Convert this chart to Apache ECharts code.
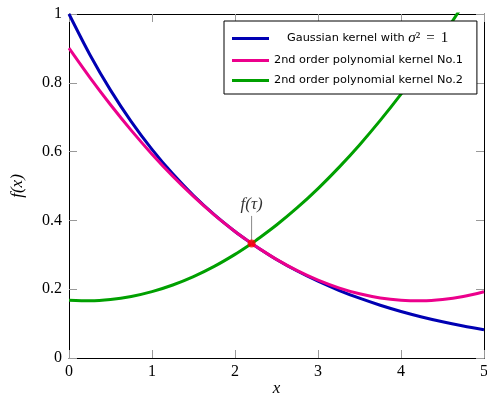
<!DOCTYPE html>
<html>
<head>
<meta charset="utf-8">
<script src="https://cdn.jsdelivr.net/npm/echarts@6/dist/echarts.min.js"></script>
<style>
  html, body { margin: 0; padding: 0; background: #fff; overflow: hidden; }
  #chart { width: 487px; height: 396px; }
</style>
</head>
<body>
<div id="chart"></div>
<script>
// Sample positions along x (shared by all three curves)
const xs = [0, 0.25, 0.5, 0.75, 1, 1.25, 1.5, 1.75, 2, 2.2, 2.25, 2.5, 2.75, 3, 3.25, 3.5, 3.75, 4, 4.25, 4.5, 4.75, 5];

// Gaussian kernel values
const gaussian = [1.0, 0.8825, 0.7788, 0.6873, 0.6065, 0.5353, 0.4724, 0.4169, 0.3679, 0.3329, 0.3247, 0.2865, 0.2528, 0.2231, 0.1969, 0.1738, 0.1534, 0.1353, 0.1194, 0.1054, 0.0930, 0.0821];

// 2nd order polynomial kernel No.1
const poly1 = [0.9006, 0.8158, 0.7362, 0.6618, 0.5926, 0.5286, 0.4699, 0.4162, 0.3679, 0.3329, 0.3247, 0.2866, 0.2539, 0.2263, 0.2040, 0.1867, 0.1747, 0.1680, 0.1664, 0.1700, 0.1788, 0.1928];

// 2nd order polynomial kernel No.2 (runs off the top of the plot near x = 4.7)
const poly2 = [0.1680, 0.1665, 0.1701, 0.1790, 0.1930, 0.2123, 0.2367, 0.2663, 0.3012, 0.3328, 0.3412, 0.3865, 0.4369, 0.4925, 0.5534, 0.6194, 0.6907, 0.7671, 0.8488, 0.9356, 1.0275, 1.1220];

// Intersection point tau and its annotation
const tauPoint = [2.2, 0.3329];
const tauLabelY = 0.413;

const names = ['Gaussian kernel with σ² = 1', '2nd order polynomial kernel No.1', '2nd order polynomial kernel No.2'];
const colors = ['#0000b3', '#ec008c', '#00a000'];

const pair = (ys) => xs.map((x, i) => [x, ys[i]]);

const serif = '"Liberation Serif", "DejaVu Serif", serif';
const sans = '"DejaVu Sans", "Liberation Sans", sans-serif';

const chart = echarts.init(document.getElementById('chart'), null, { renderer: 'canvas' });

const tickLabelFmt = (v) => String(Math.round(v * 10) / 10);

const axisCommon = {
  axisLine: { show: true, onZero: false, lineStyle: { color: '#000', width: 1 } },
  axisTick: { show: true, inside: true, length: 8, lineStyle: { color: '#999', width: 1 } },
  splitLine: { show: false },
  axisLabel: { color: '#000', fontFamily: serif, fontSize: 16, formatter: tickLabelFmt }
};

const option = {
  animation: false,
  backgroundColor: '#fff',
  grid: { left: 69, right: 3, top: 14, bottom: 38, containLabel: false, outerBoundsMode: 'none' },
  xAxis: [
    Object.assign({}, axisCommon, {
      type: 'value', min: 0, max: 5, interval: 1,
      name: 'x', nameLocation: 'middle', nameGap: 22, nameMoveOverlap: false,
      nameTextStyle: { fontFamily: serif, fontStyle: 'italic', fontSize: 17, color: '#000' },
      axisLabel: Object.assign({}, axisCommon.axisLabel, { margin: 6 })
    }),
    Object.assign({}, axisCommon, {
      type: 'value', min: 0, max: 5, interval: 1, position: 'top',
      axisLabel: { show: false }
    })
  ],
  yAxis: [
    Object.assign({}, axisCommon, {
      type: 'value', min: 0, max: 1, interval: 0.2,
      name: 'f(x)', nameLocation: 'middle', nameGap: 43, nameRotate: 90, nameMoveOverlap: false,
      nameTextStyle: { fontFamily: serif, fontStyle: 'italic', fontSize: 17, color: '#000' },
      axisLabel: Object.assign({}, axisCommon.axisLabel, { margin: 7 })
    }),
    Object.assign({}, axisCommon, {
      type: 'value', min: 0, max: 1, interval: 0.2, position: 'right',
      axisLabel: { show: false }
    })
  ],
  legend: {
    orient: 'vertical',
    left: 224, top: 21,
    itemWidth: 37, itemHeight: 3,
    itemGap: 9,
    padding: [10, 14, 8, 8],
    borderColor: '#000', borderWidth: 1, borderRadius: 0,
    backgroundColor: '#fff',
    icon: 'rect',
    data: names.map(n => ({ name: n })),
    formatter: (name) => {
      if (name === names[0]) return '{g|Gaussian kernel with }{s|σ}{m|²}{eq|=}{m|1}';
      return '{t|' + name + '}';
    },
    textStyle: {
      fontFamily: sans, fontSize: 11.3, color: '#000',
      rich: {
        t: { fontFamily: sans, fontSize: 11.3, color: '#000', height: 13 },
        g: { fontFamily: sans, fontSize: 11.3, color: '#000', height: 13, padding: [0, 0, 0, 13] },
        s: { fontFamily: serif, fontStyle: 'italic', fontSize: 15, color: '#000', height: 13 },
        m: { fontFamily: serif, fontSize: 15, color: '#000', height: 13 },
        eq: { fontFamily: serif, fontSize: 15, color: '#000', height: 13, padding: [0, 6, 0, 6] }
      }
    }
  },
  series: [
    {
      name: names[0], type: 'line', data: pair(gaussian), smooth: 0.3,
      showSymbol: false, clip: true, z: 3,
      lineStyle: { color: colors[0], width: 3 }, itemStyle: { color: colors[0] }
    },
    {
      name: names[1], type: 'line', data: pair(poly1), smooth: 0.3,
      showSymbol: false, clip: true, z: 4,
      lineStyle: { color: colors[1], width: 3 }, itemStyle: { color: colors[1] }
    },
    {
      name: names[2], type: 'line', data: pair(poly2), smooth: 0.3,
      showSymbol: false, clip: true, z: 2,
      lineStyle: { color: colors[2], width: 3 }, itemStyle: { color: colors[2] }
    },
    {
      // annotation stem from the intersection up to the f(τ) label
      type: 'line', data: [tauPoint, [tauPoint[0], tauLabelY]],
      showSymbol: false, silent: true, z: 5,
      lineStyle: { color: '#888', width: 1 }
    },
    {
      // f(τ) label sitting on top of the stem
      type: 'scatter', data: [[tauPoint[0], tauLabelY]], symbolSize: 0, silent: true, z: 6,
      label: {
        show: true, position: 'top', distance: 3, formatter: 'f(τ)',
        fontFamily: serif, fontStyle: 'italic', fontSize: 17, color: '#000'
      }
    },
    {
      type: 'scatter', data: [tauPoint], symbolSize: 8, silent: true, z: 7,
      itemStyle: { color: '#ff0000' }
    }
  ]
};

chart.setOption(option);
</script>
</body>
</html>
